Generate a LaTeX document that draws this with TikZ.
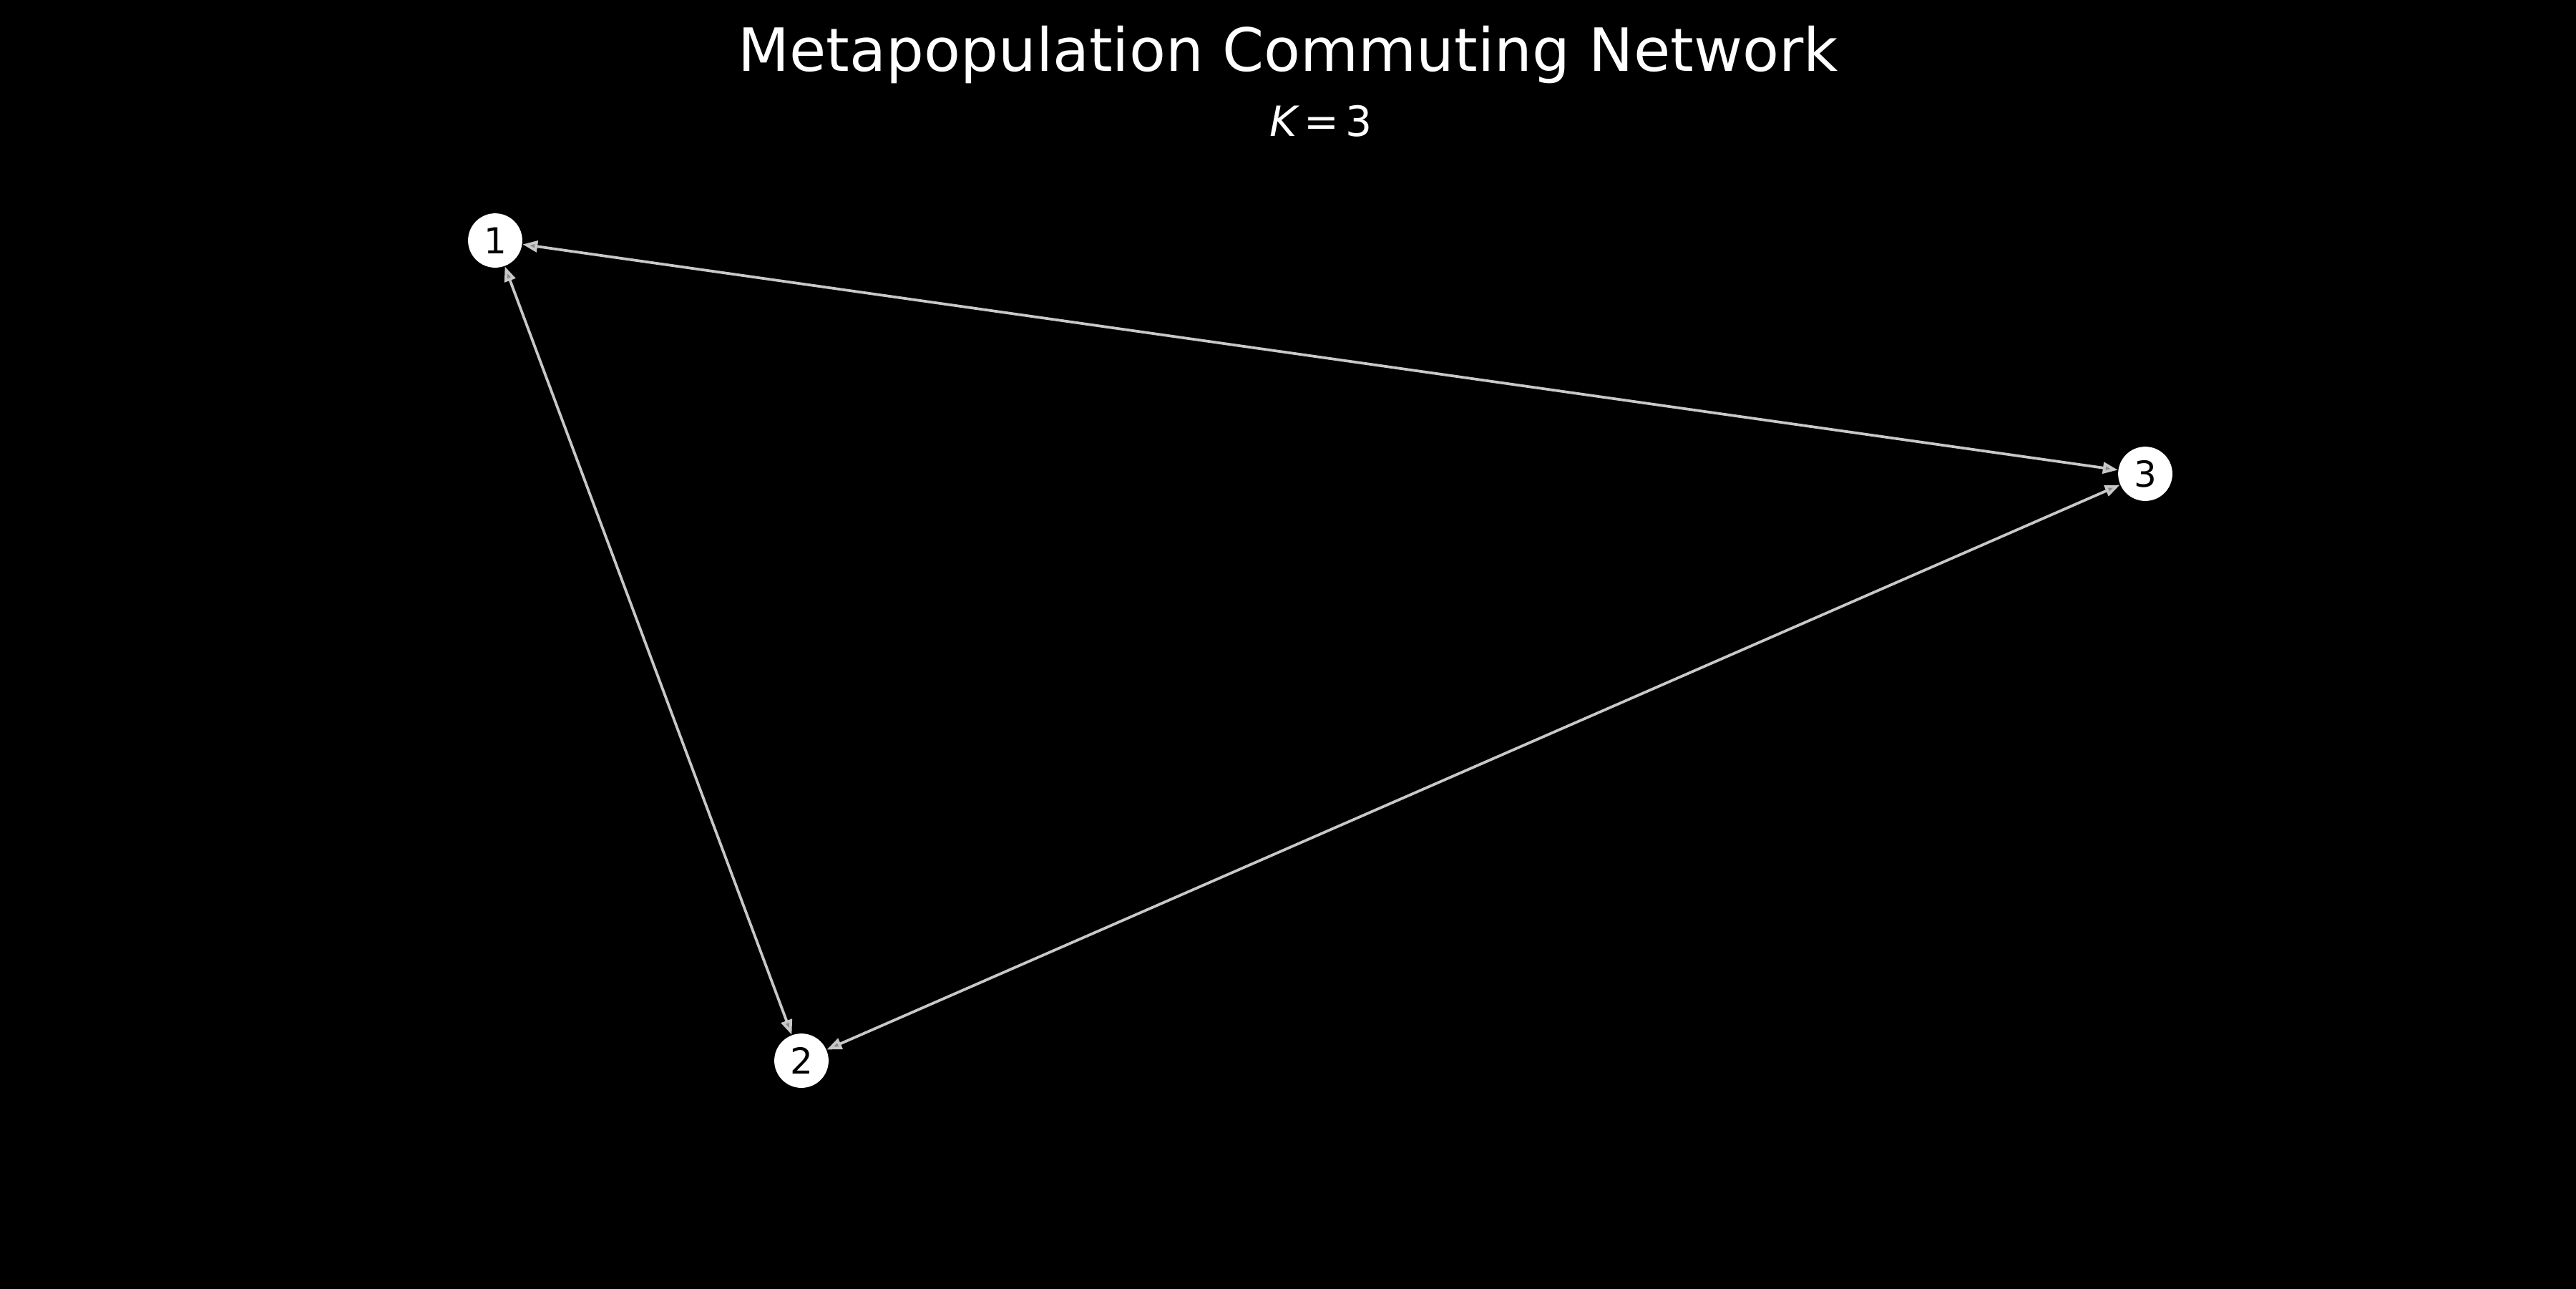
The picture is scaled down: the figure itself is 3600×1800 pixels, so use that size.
\documentclass[tikz,border=0pt]{standalone}
\usepackage{fontspec}
\setmainfont{DejaVu Sans}
\usetikzlibrary{arrows.meta}
\definecolor{edgegray}{HTML}{C8C8C8}
\begin{document}
\begin{tikzpicture}[x=0.24pt, y=-0.24pt,
    patch/.style={circle, fill=white, inner sep=0pt, minimum size=18.2pt, font=\fontsize{12}{14}\selectfont, text=black},
    commute/.style={edgegray, line width=0.9pt, {Triangle[length=5pt,width=3.8pt,fill=edgegray!70!black]}-{Triangle[length=5pt,width=3.8pt,fill=edgegray!70!black]}}]
        % \draw[help lines, gray!50, very thin] (0,0) grid[step=100] (3600,1800);
        \useasboundingbox (0,0) rectangle (3600,1800);
        \fill[black] (-20,-20) rectangle (3620,1820);

        \node[white, font=\fontsize{20}{24}\selectfont, anchor=base] (title) at (1800,99) {Metapopulation Commuting Network};
        \node[white, font=\fontsize{14}{17}\selectfont, anchor=base] (sub) at (1846,190) {{\itshape K}\,=\,3};

        \node[patch] (p1) at (692,336) {1};
        \node[patch] (p2) at (1120,1482) {2};
        \node[patch] (p3) at (2998,662) {3};

        \draw[commute] (p1) -- (p3);
        \draw[commute] (p1) -- (p2);
        \draw[commute] (p2) -- (p3);
      \end{tikzpicture}
\end{document}
